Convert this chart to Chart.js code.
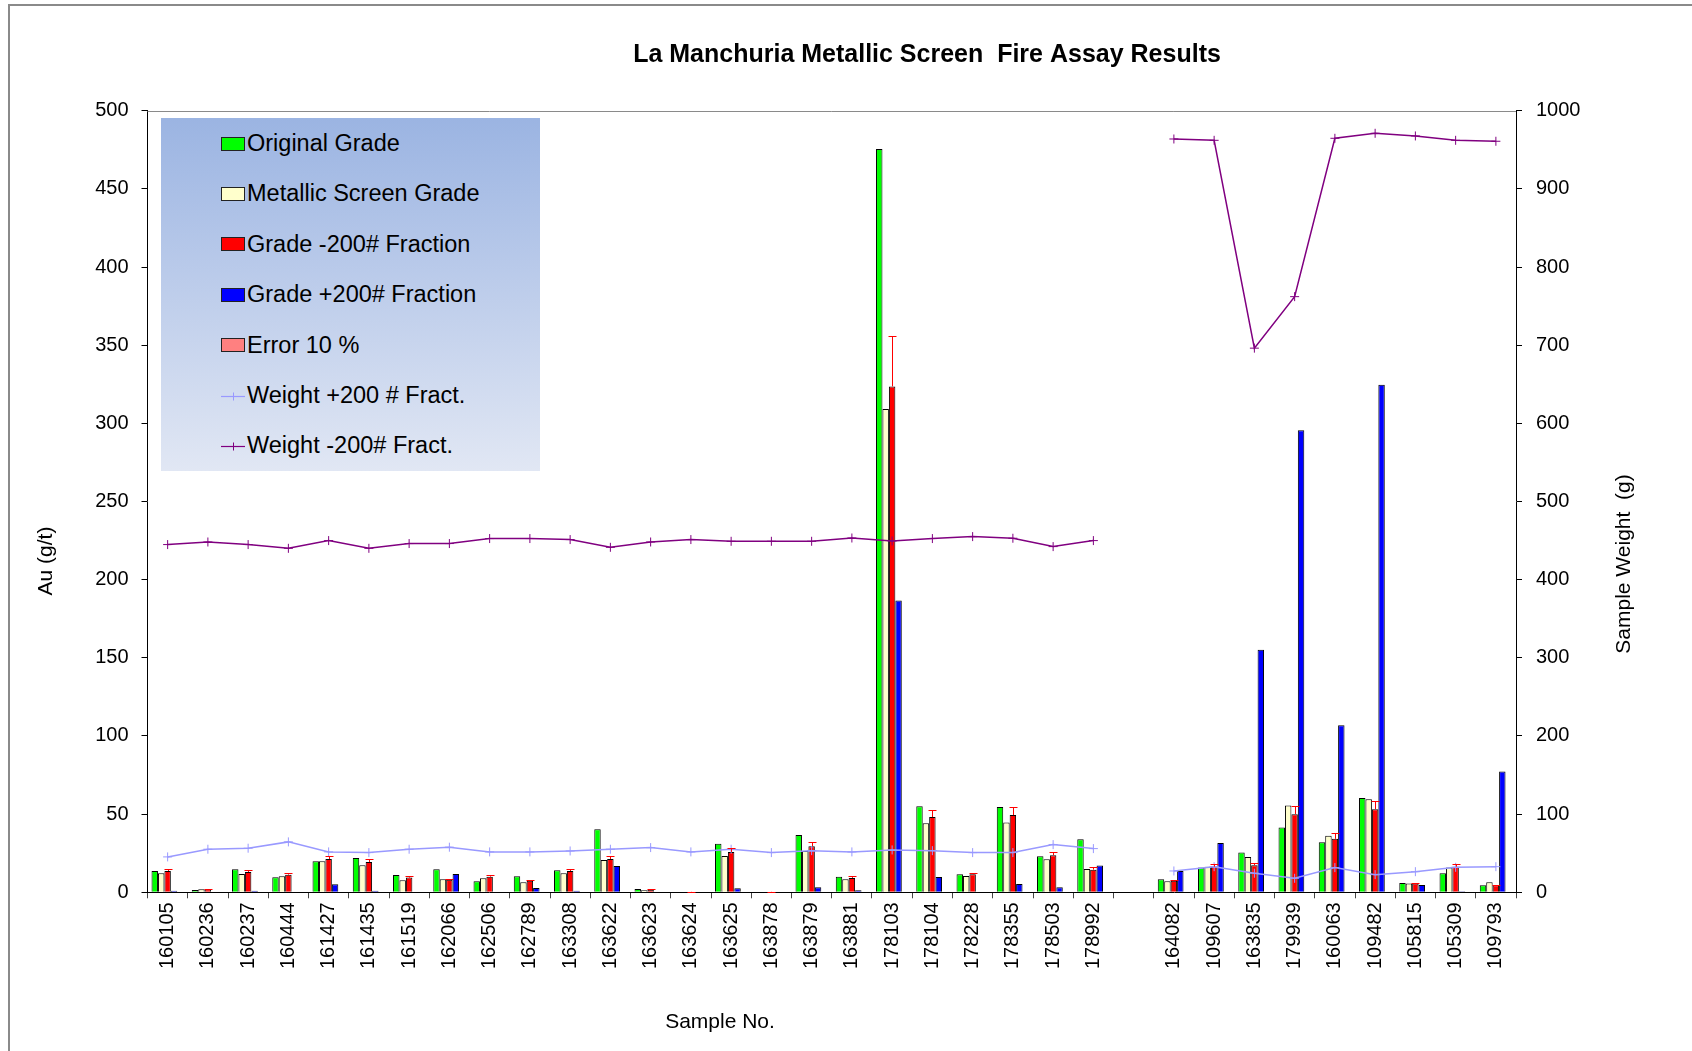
<!DOCTYPE html>
<html>
<head>
<meta charset="utf-8">
<script src="https://cdn.jsdelivr.net/npm/chart.js@4/dist/chart.umd.min.js"></script>
<style>
html,body{margin:0;padding:0;background:#fff;overflow:hidden;width:1692px;height:1051px}
#frame{position:absolute;left:8px;top:4px;width:2000px;height:2000px;border-left:2px solid #8a8a8a;border-top:2px solid #8a8a8a}
#c{position:absolute;left:0;top:0}
#legend{position:absolute;left:161px;top:118px;width:379px;height:353px;background:linear-gradient(to bottom,#9bb4e2,#e1e7f4);font-family:"Liberation Sans",Arial,sans-serif;font-size:23.5px;color:#000}
.row{position:absolute;left:60px;height:30px;display:flex;align-items:center;white-space:nowrap}
.sw{width:24px;height:14px;border:1px solid #222;box-sizing:border-box;margin-right:2px}
.ln{width:24px;height:14px;margin-right:2px}
.ln svg{display:block}
</style>
</head>
<body>
<div id="frame"></div>
<canvas id="c" width="1692" height="1051"></canvas>
<div id="legend"></div>
<script>
// ---------------- data ----------------
const chartTitle = 'La Manchuria Metallic Screen  Fire Assay Results';
const xTitle = 'Sample No.';
const yTitle = 'Au (g/t)';
const y1Title = 'Sample Weight  (g)';

const samples = ['160105','160236','160237','160444','161427','161435','161519','162066','162506','162789','163308','163622','163623','163624','163625','163878','163879','163881','178103','178104','178228','178355','178503','178992','','164082','109607','163835','179939','160063','109482','105815','105309','109793'];

const originalGrade = [13.6,1.5,14.7,9.6,19.9,22.0,11.1,14.7,7.0,10.2,14.1,40.4,2.1,0.3,31.0,0.3,36.7,10.0,475.5,55.1,11.5,54.5,23.1,34.0,null,8.3,15.8,25.4,41.4,32.0,60.3,6.0,12.2,4.5];
const metallicScreenGrade = [12.2,2.0,11.7,10.2,19.9,17.3,7.7,8.3,9.0,6.4,12.2,20.7,1.3,0.3,23.3,0.3,26.5,8.3,309.2,44.2,10.4,44.6,21.2,14.9,null,7.0,16.4,22.6,55.5,36.1,59.6,5.6,15.8,6.4];
const gradeMinus200 = [13.6,2.0,13.0,11.3,21.3,19.4,9.4,8.0,10.0,7.4,13.6,21.3,1.7,0.3,25.8,0.3,29.5,9.2,323.6,48.1,11.5,49.4,23.7,14.5,null,7.4,16.4,17.3,50.0,34.2,53.2,5.6,16.4,4.5];
const gradePlus200 = [1.0,0.3,1.0,0.3,5.1,1.0,0.3,11.7,0.3,2.8,1.0,16.9,0.3,0.3,2.6,0.3,3.2,1.3,186.7,9.8,0.3,5.3,3.2,17.1,null,13.7,31.6,155.1,295.6,106.8,324.7,4.7,0.6,77.2];
const errorSeries = [0,0,0,0,0,0,0,0,0,0,0,0,0,0,0,0,0,0,0,0,0,0,0,0,null,0,0,0,0,0,0,0,0,0];
const errorPlus = [1.36,0.2,1.3,1.13,2.13,1.94,0.94,0.8,1.0,0.74,1.36,2.13,0.17,0.03,2.58,0.03,2.95,0.92,32.36,4.81,1.15,4.94,2.37,1.45,null,0.74,1.64,1.73,5.0,3.42,5.32,0.56,1.64,0.45];
const weightPlus200 = [45.3,55.1,56.4,64.5,51.7,50.8,55.1,57.7,51.7,51.7,52.9,55.1,57.2,51.7,55.1,50.8,53.3,51.7,54.2,53.3,50.8,50.8,61.0,55.9,null,27.3,32.8,24.4,17.9,31.6,22.6,26.4,32.0,32.8];
const weightMinus200 = [444.9,448.2,444.9,440.1,450.0,440.1,446.2,446.2,452.6,452.6,451.3,441.4,448.2,451.3,449.1,449.1,449.1,453.3,449.5,452.6,455.1,453.0,442.3,450.0,null,963.8,962.1,696.2,762.1,964.7,971.1,967.7,962.1,960.9];

const legendLabels = ['Original Grade','Metallic Screen Grade','Grade -200# Fraction','Grade +200# Fraction','Error 10 %','Weight +200 # Fract.','Weight -200# Fract.'];

// ---------------- styles ----------------
const FONT = '"Liberation Sans", Arial, sans-serif';
const colGreen = '#00ff00', colYellow = '#ffffcc', colRed = '#ff0000', colBlue = '#0000ff', colPink = '#ff8080';
const colLightBlue = '#9999ff', colPurple = '#800080';

// legend (HTML)
(function(){
  const lg = document.getElementById('legend');
  const fills = [colGreen,colYellow,colRed,colBlue,colPink];
  legendLabels.forEach((t,i)=>{
    const r = document.createElement('div');
    r.className='row';
    r.style.top = (10.5 + i*50.4) + 'px';
    let sw;
    if(i<5){
      sw = document.createElement('div'); sw.className='sw'; sw.style.background=fills[i];
    } else {
      const c = i===5 ? colLightBlue : colPurple;
      sw = document.createElement('div'); sw.className='ln';
      sw.innerHTML = '<svg width="24" height="14"><line x1="0" y1="7.5" x2="24" y2="7.5" stroke="'+c+'" stroke-width="1.2"/><line x1="12.5" y1="3.5" x2="12.5" y2="11.5" stroke="'+c+'" stroke-width="1"/></svg>';
    }
    r.appendChild(sw);
    const s = document.createElement('span'); s.textContent=t; r.appendChild(s);
    lg.appendChild(r);
  });
})();

const errorBars = {
  id:'errorBars',
  afterDatasetsDraw(chart){
    const meta = chart.getDatasetMeta(2);
    const ys = chart.scales.y;
    const ctx = chart.ctx;
    ctx.save();
    ctx.strokeStyle = colRed; ctx.lineWidth = 1;
    meta.data.forEach((el,i)=>{
      const v = gradeMinus200[i], e = errorPlus[i];
      if(v==null || e==null) return;
      const x = Math.round(el.x)+0.5;
      const y0 = ys.getPixelForValue(v);
      const y1 = Math.round(ys.getPixelForValue(v+e))+0.5;
      ctx.beginPath();
      ctx.moveTo(x,y0); ctx.lineTo(x,y1);
      ctx.moveTo(x-4,y1); ctx.lineTo(x+4,y1);
      ctx.stroke();
    });
    ctx.restore();
  }
};

// plot-area top border (drawn along the y scale maximum) and chart texts
const textPlugin = {
  id:'textPlugin',
  beforeDatasetsDraw(chart){
    const ctx = chart.ctx, ys = chart.scales.y, a = chart.chartArea;
    const yTop = Math.round(ys.getPixelForValue(ys.max)) + 0.5;
    ctx.save();
    ctx.strokeStyle = '#8a8a8a'; ctx.lineWidth = 1;
    ctx.beginPath(); ctx.moveTo(a.left, yTop); ctx.lineTo(a.right, yTop); ctx.stroke();
    ctx.restore();
  },
  afterDraw(chart){
    const ctx = chart.ctx;
    ctx.save();
    ctx.fillStyle='#000'; ctx.textAlign='center'; ctx.textBaseline='middle';
    ctx.font = 'bold 25px ' + FONT;
    ctx.fillText(chartTitle, 927, 55);
    ctx.font = '21px ' + FONT;
    ctx.fillText(xTitle, 720, 1022);
    ctx.save(); ctx.translate(46.5,561); ctx.rotate(-Math.PI/2); ctx.fillText(yTitle,0,0); ctx.restore();
    ctx.save(); ctx.translate(1624,564); ctx.rotate(-Math.PI/2); ctx.fillText(y1Title,0,0); ctx.restore();
    ctx.restore();
  }
};

const barBase = {type:'bar', yAxisID:'y', borderColor:'#000', borderWidth:1, order:2, categoryPercentage:0.8, barPercentage:1.0};

new Chart(document.getElementById('c'), {
  data:{
    labels: samples,
    datasets:[
      Object.assign({}, barBase, {label:legendLabels[0], data:originalGrade, backgroundColor:colGreen}),
      Object.assign({}, barBase, {label:legendLabels[1], data:metallicScreenGrade, backgroundColor:colYellow}),
      Object.assign({}, barBase, {label:legendLabels[2], data:gradeMinus200, backgroundColor:colRed}),
      Object.assign({}, barBase, {label:legendLabels[3], data:gradePlus200, backgroundColor:colBlue}),
      Object.assign({}, barBase, {label:legendLabels[4], data:errorSeries, backgroundColor:colPink, borderWidth:0}),
      {type:'line', label:legendLabels[5], data:weightPlus200, yAxisID:'y1', order:1, borderColor:colLightBlue, backgroundColor:colLightBlue, borderWidth:1.5, pointStyle:'cross', pointRadius:4.5, pointBorderWidth:1, pointBorderColor:colLightBlue, tension:0, spanGaps:false, fill:false},
      {type:'line', label:legendLabels[6], data:weightMinus200, yAxisID:'y1', order:0, borderColor:colPurple, backgroundColor:colPurple, borderWidth:1.5, pointStyle:'cross', pointRadius:4.5, pointBorderWidth:1, pointBorderColor:colPurple, tension:0, spanGaps:false, fill:false}
    ]
  },
  options:{
    responsive:false,
    animation:false,
    devicePixelRatio:1,
    layout:{padding:{top:110.7,left:0,right:0,bottom:0}},
    plugins:{legend:{display:false}, title:{display:false}, tooltip:{enabled:false}},
    scales:{
      x:{
        type:'category', offset:true,
        grid:{display:true, offset:true, drawOnChartArea:false, drawTicks:true, tickLength:6, tickColor:'#444'},
        border:{display:true, color:'#000', width:1},
        ticks:{autoSkip:false, minRotation:90, maxRotation:90, padding:4, color:'#000', font:{family:FONT, size:20}},
        afterFit(s){ s.height = 158.7; }
      },
      y:{
        position:'left', min:0, max:500,
        ticks:{stepSize:50, color:'#000', padding:13, font:{family:FONT, size:20}, callback:(v)=>String(v)},
        grid:{drawOnChartArea:false, tickColor:'#000', tickLength:6},
        border:{display:true, color:'#000', width:1},
        afterFit(s){ s.width = 147.5; }
      },
      y1:{
        position:'right', min:0, max:1000,
        ticks:{stepSize:100, color:'#000', padding:14, font:{family:FONT, size:20}, callback:(v)=>String(v)},
        grid:{drawOnChartArea:false, tickColor:'#000', tickLength:6},
        border:{display:true, color:'#000', width:1},
        afterFit(s){ s.width = 176; }
      }
    }
  },
  plugins:[errorBars, textPlugin]
});
</script>
</body>
</html>
